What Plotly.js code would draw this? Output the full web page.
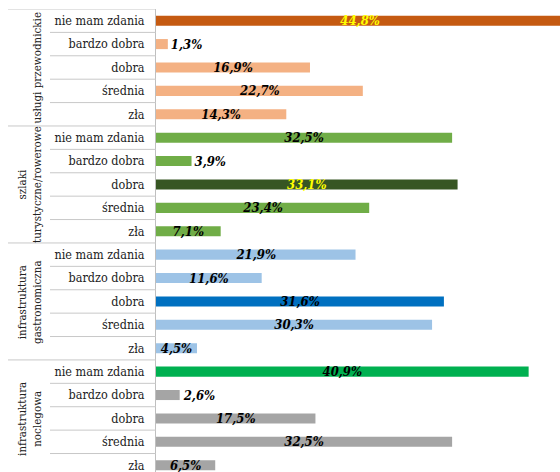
<!DOCTYPE html>
<html>
<head>
<meta charset="utf-8">
<script src="https://cdn.plot.ly/plotly-3.0.1.min.js"></script>
<style>html,body{margin:0;padding:0;background:#fff;overflow:hidden;width:560px;height:472px;}#chart{width:566px;height:472px;}</style>
</head>
<body>
<div id="chart"></div>
<script>
const groups = ["usługi przewodnickie", "szlaki<br>turystyczne/rowerowe", "infrastruktura<br>gastronomiczna", "infrastruktura<br>noclegowa"];
const ratings = ["nie mam zdania", "bardzo dobra", "dobra", "średnia", "zła"];
const uslugiPrzewodnickie = [44.8, 1.3, 16.9, 22.7, 14.3];
const szlakiTurystyczne = [32.5, 3.9, 33.1, 23.4, 7.1];
const infrastrukturaGastronomiczna = [21.9, 11.6, 31.6, 30.3, 4.5];
const infrastrukturaNoclegowa = [40.9, 2.6, 17.5, 32.5, 6.5];
const seriesByGroup = [uslugiPrzewodnickie, szlakiTurystyczne, infrastrukturaGastronomiczna, infrastrukturaNoclegowa];

const SERIF = "DejaVu Serif Condensed";
const groupStyle = [
  {base: "#F4B183", hi: "#C55A11", hiIdx: 0, hiText: "#FFFF00"},
  {base: "#70AD47", hi: "#375623", hiIdx: 2, hiText: "#FFFF00"},
  {base: "#9DC3E6", hi: "#0070C0", hiIdx: 2, hiText: "#000000"},
  {base: "#A5A5A5", hi: "#00B050", hiIdx: 0, hiText: "#000000"}
];
const outsideThreshold = 4;

const keys = [], xs = [], colors = [], texts = [], tpos = [], tcolors = [];
groups.forEach((g, gi) => {
  ratings.forEach((r, ri) => {
    const v = seriesByGroup[gi][ri];
    keys.push(gi + "|" + r);
    xs.push(v);
    const st = groupStyle[gi];
    colors.push(ri === st.hiIdx ? st.hi : st.base);
    tcolors.push(ri === st.hiIdx ? st.hiText : "#000000");
    texts.push(v.toFixed(1).replace(".", ",") + "%");
    tpos.push(v < outsideThreshold ? "outside" : "inside");
  });
});

const n = keys.length;
const W = 566, L = 156, plotW = W - L;
const px2paper = p => (p - L) / plotW;

const shapes = [];
const lineCol = "#C8C8C8";
for (let k = -1; k < n - 1; k++) {
  const isGroup = (k + 1) % ratings.length === 0;
  shapes.push({
    type: "line", xref: "paper", yref: "y",
    x0: px2paper(isGroup ? 8 : 50), x1: 0,
    y0: k + 0.5, y1: k + 0.5,
    line: {color: lineCol, width: 1}
  });
}

const annotations = groups.map((g, gi) => ({
  xref: "paper", yref: "y",
  x: px2paper(46), y: gi * ratings.length + 2,
  xanchor: "right", yanchor: "middle",
  text: g, textangle: -90, showarrow: false,
  font: {family: SERIF, size: 11.5, color: "#222222"}
}));

const trace = {
  type: "bar", orientation: "h",
  x: xs, y: keys,
  marker: {color: colors},
  text: texts, textposition: tpos,
  insidetextanchor: "middle",
  constraintext: "none", textangle: 0,
  textfont: {family: SERIF, size: 13, color: tcolors, weight: "bold", style: "italic"},
  cliponaxis: false,
  hoverinfo: "none"
};

const layout = {
  width: W, height: 472,
  margin: {l: L, r: 0, t: 9, b: 0, pad: 0},
  paper_bgcolor: "#ffffff", plot_bgcolor: "#ffffff",
  showlegend: false,
  bargap: 0.57,
  font: {family: SERIF},
  xaxis: {range: [0, 45], visible: false, fixedrange: true},
  yaxis: {
    type: "category", categoryorder: "array", categoryarray: keys,
    range: [19.29, -0.5],
    tickvals: keys, ticktext: keys.map(k => k.split("|")[1]),
    showline: true, linecolor: "#BFBFBF", linewidth: 1,
    showgrid: false, zeroline: false, ticks: "",
    ticklabelstandoff: 8,
    tickfont: {family: SERIF, size: 12.5, color: "#222222"},
    fixedrange: true
  },
  shapes: shapes,
  annotations: annotations
};

Plotly.newPlot("chart", [trace], layout, {displayModeBar: false, staticPlot: true});
</script>
</body>
</html>
